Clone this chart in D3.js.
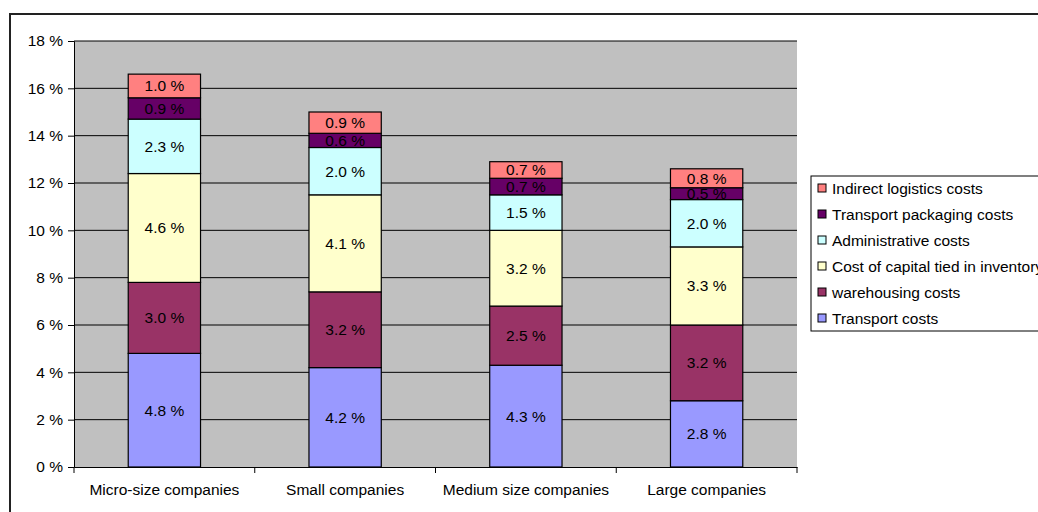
<!DOCTYPE html>
<html><head><meta charset="utf-8">
<script src="https://cdn.jsdelivr.net/npm/d3@7"></script>
<style>body{margin:0;background:#fff;overflow:hidden}text{font-family:"Liberation Sans",Arial,sans-serif}</style>
</head><body><svg id="c" width="1038" height="512"></svg>
<script>
const categories = ["Micro-size companies","Small companies","Medium size companies","Large companies"];
const seriesNames = ["Transport costs","warehousing costs","Cost of capital tied in inventory","Administrative costs","Transport packaging costs","Indirect logistics costs"];
const transport = [4.8, 4.2, 4.3, 2.8];
const warehousing = [3.0, 3.2, 2.5, 3.2];
const capital = [4.6, 4.1, 3.2, 3.3];
const administrative = [2.3, 2.0, 1.5, 2.0];
const packaging = [0.9, 0.6, 0.7, 0.5];
const indirect = [1.0, 0.9, 0.7, 0.8];
const yTicks = [0,2,4,6,8,10,12,14,16,18];
const colors = ["#9999FF","#993366","#FFFFCC","#CCFFFF","#660066","#FF8080"];

const seriesVals = [transport, warehousing, capital, administrative, packaging, indirect];
const rows = categories.map((c,i)=>{const o={cat:c}; seriesNames.forEach((s,j)=>o[s]=seriesVals[j][i]); return o;});
const stack = d3.stack().keys(seriesNames)(rows);

const FS = 15.5;
const svg = d3.select("#c");
const L=74, R=797, T=41, B=467;
svg.append("rect").attr("x",10).attr("y",14).attr("width",1040).attr("height",510).attr("fill","#fff").attr("stroke","#222").attr("stroke-width",2);
svg.append("rect").attr("x",L).attr("y",T).attr("width",R-L).attr("height",B-T).attr("fill","#C0C0C0");

const x = d3.scaleBand().domain(categories).range([L,R]).paddingInner(0.6).paddingOuter(0.3);
const xb = d3.scaleBand().domain(categories).range([L,R]);
const y = d3.scaleLinear().domain([0,18]).range([B,T]);

svg.append("g").selectAll("line").data(yTicks.filter(d=>d>0)).join("line")
  .attr("x1",L).attr("x2",R).attr("y1",d=>y(d)).attr("y2",d=>y(d)).attr("stroke","#000").attr("stroke-width",1);

const ya = svg.append("g").attr("transform",`translate(${L},0)`).call(d3.axisLeft(y).tickValues(yTicks).tickSize(6).tickPadding(5).tickFormat(d=>d+" %"));
ya.select(".domain").attr("stroke","#000");
ya.selectAll("text").attr("font-size",FS).attr("fill","#000").attr("font-family","Liberation Sans, Arial, sans-serif");

const xa = svg.append("g").attr("transform",`translate(0,${B})`).call(d3.axisBottom(xb).tickSize(0).tickPadding(17));
xa.select(".domain").attr("stroke","#000");
xa.selectAll("text").attr("font-size",FS).attr("fill","#000").attr("font-family","Liberation Sans, Arial, sans-serif");
svg.append("g").selectAll("line").data(d3.range(categories.length+1)).join("line")
  .attr("x1",i=>L+i*xb.bandwidth()).attr("x2",i=>L+i*xb.bandwidth()).attr("y1",B).attr("y2",B+6).attr("stroke","#000");

const g = svg.append("g");
stack.forEach((s,j)=>{
  g.selectAll(null).data(s).join("rect")
    .attr("x",d=>x(d.data.cat)).attr("width",x.bandwidth())
    .attr("y",d=>y(d[1])).attr("height",d=>y(d[0])-y(d[1]))
    .attr("fill",colors[j]).attr("stroke","#000").attr("stroke-width",1.2);
});
stack.forEach((s,j)=>{
  g.selectAll(null).data(s).join("text")
    .attr("x",d=>x(d.data.cat)+x.bandwidth()/2).attr("y",d=>(y(d[0])+y(d[1]))/2+5.5)
    .attr("text-anchor","middle").attr("font-size",FS).attr("fill","#000")
    .text(d=>(d[1]-d[0]).toFixed(1)+" %");
});

const lg = svg.append("g");
lg.append("rect").attr("x",811).attr("y",176).attr("width",240).attr("height",155).attr("fill","#fff").attr("stroke","#000").attr("stroke-width",1);
const legendOrder = seriesNames.map((s,j)=>({s,c:colors[j]})).reverse();
legendOrder.forEach((d,i)=>{
  const yy = 188 + i*26;
  lg.append("rect").attr("x",818).attr("y",yy-4).attr("width",8).attr("height",8).attr("fill",d.c).attr("stroke","#000").attr("stroke-width",1);
  lg.append("text").attr("x",832).attr("y",yy+5.5).attr("font-size",FS).attr("fill","#000").text(d.s);
});
</script></body></html>
